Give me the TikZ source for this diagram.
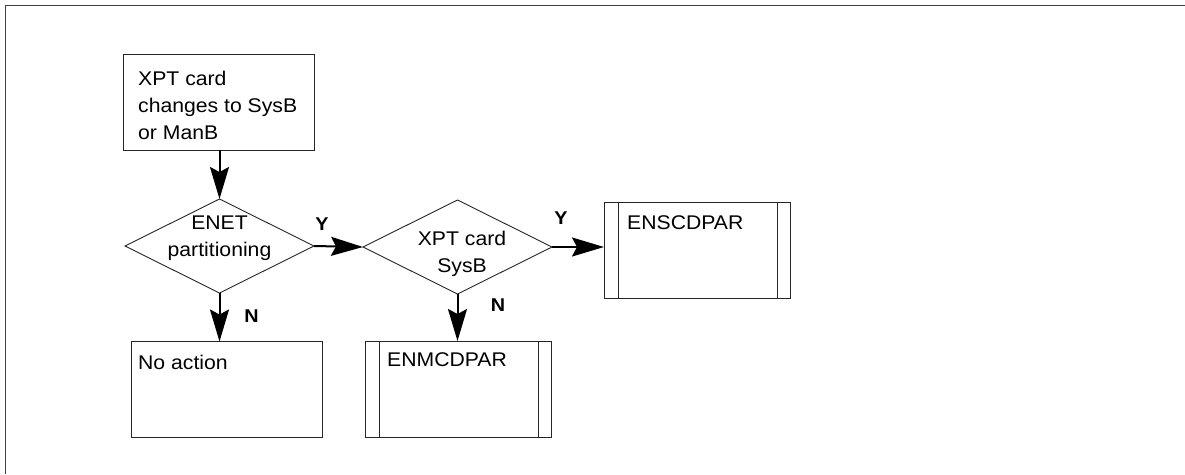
\documentclass[tikz,border=0pt]{standalone}
\usepackage{fontspec}
\setmainfont{Liberation Sans}[FakeStretch=1.07]
\usetikzlibrary{shapes.geometric,arrows.meta}
\tikzset{
  frameline/.style={draw=black!75, line width=1pt},
  procbox/.style={draw=black!85, line width=1pt, inner sep=0pt, outer sep=0pt,
    minimum width=191pt, minimum height=96pt},
  subrbox/.style={procbox, minimum width=186pt, minimum height=96pt,
    path picture={
      \draw[black!85, line width=1pt]
        ([xshift=14pt]path picture bounding box.north west) -- ([xshift=14pt]path picture bounding box.south west)
        ([xshift=-13pt]path picture bounding box.north east) -- ([xshift=-13pt]path picture bounding box.south east);
    }},
  decision/.style={diamond, draw=black!85, line width=0.9pt, inner sep=0pt, outer sep=0pt,
    minimum width=189pt, minimum height=94pt},
  boxtext/.style={inner sep=0pt, font=\fontsize{19.8}{27}\selectfont},
  ynlabel/.style={inner sep=0pt, font=\fontsize{18.5}{20}\selectfont\bfseries},
  flow/.style={line width=2pt, -{Stealth[length=32pt,width=19pt,inset=5pt]}},
}
\begin{document}
\begin{tikzpicture}[x=1pt,y=-1pt]
\useasboundingbox (0,0) rectangle (1185,474);
\coordinate (fa) at (5.5,474);
\coordinate (fb) at (5.5,5.5);
\coordinate (fc) at (1185,5.5);
\draw[frameline] (fa) -- (fb) -- (fc);

% nodes
\node[procbox] (start) at (218.5,102) {};
\node[boxtext, anchor=north west, align=left] (starttext) at (138,71)
  {XPT card\\changes to SysB\\or ManB};

\node[decision] (d1) at (219.5,246) {};
\node[boxtext, anchor=north, align=center] (d1text) at (219.5,215.5) {ENET\\partitioning};

\node[decision] (d2) at (457.5,247) {};
\node[boxtext, anchor=north, align=center] (d2text) at (462,231) {XPT card\\SysB};

\node[procbox] (noact) at (227,389.5) {};
\node[boxtext, anchor=base west] (noacttext) at (138,369) {No action};

\node[subrbox] (enm) at (458,389) {};
\node[boxtext, anchor=base west] (enmtext) at (387,366) {ENMCDPAR};

\node[subrbox] (ens) at (697,250) {};
\node[boxtext, anchor=base west] (enstext) at (627,229) {ENSCDPAR};

% connectors
\draw[flow] (start.south -| d1.north) -- (d1.north);
\draw[flow] (d1.east) -- (d2.west);
\draw[flow] (d2.east) -- (d2.east -| ens.west);
\draw[flow] (d1.south) -- (d1.south |- noact.north);
\draw[flow] (d2.south) -- (d2.south |- enm.north);

% labels
\node[ynlabel] (y1) at (322,224) {Y};
\node[ynlabel] (y2) at (561,218) {Y};
\node[ynlabel] (n1) at (251.5,316) {N};
\node[ynlabel] (n2) at (498,305.5) {N};
\end{tikzpicture}
\end{document}
